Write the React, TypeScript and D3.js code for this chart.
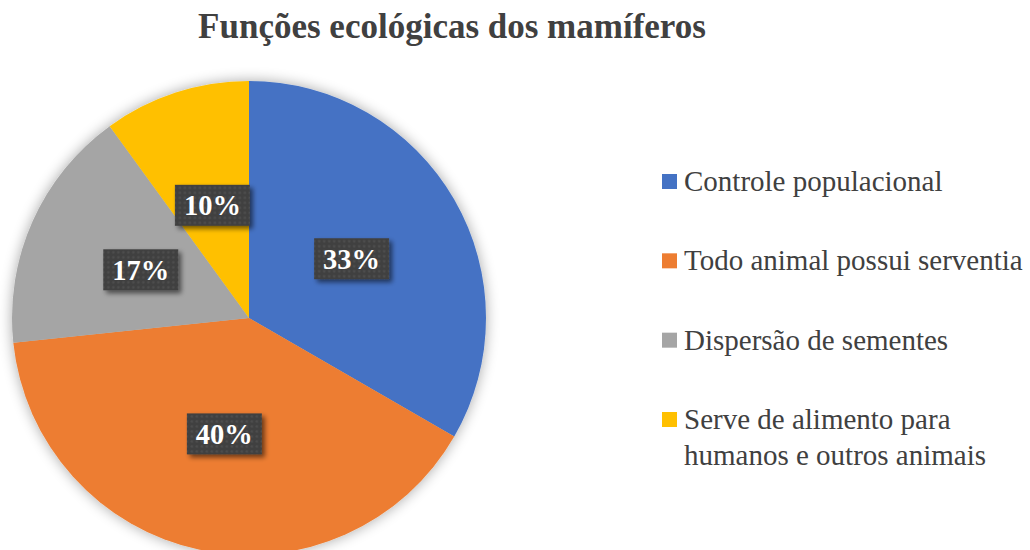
import React from "react";
import * as d3 from "d3";

const categories = [
  "Controle populacional",
  "Todo animal possui serventia",
  "Dispersão de sementes",
  "Serve de alimento para humanos e outros animais",
];
const legendLines = [
  ["Controle populacional"],
  ["Todo animal possui serventia"],
  ["Dispersão de sementes"],
  ["Serve de alimento para", "humanos e outros animais"],
];
const values = [10, 12, 5, 3];
const colors = ["#4472C4", "#ED7D31", "#A5A5A5", "#FFC000"];
const title = "Funções ecológicas dos mamíferos";

const W = 1030;
const H = 550;
const cx = 249;
const cy = 318;
const R = 237;

export default function App() {
  const total = d3.sum(values);
  const pie = d3.pie<number>().sort(null).value((d) => d)(values);
  const arc = d3.arc<d3.PieArcDatum<number>>().innerRadius(0).outerRadius(R);
  const legendY = d3.scaleLinear().domain([0, 3]).range([182, 420]);
  const fontStyle = { fontFamily: '"Liberation Serif", "DejaVu Serif", serif' };

  return (
    <svg
      width={W}
      height={H}
      style={{ position: "absolute", left: 0, top: 0, ...fontStyle }}
    >
      <defs>
        <filter id="pieShadow" x="-20%" y="-20%" width="140%" height="140%">
          <feGaussianBlur in="SourceAlpha" stdDeviation="7" />
          <feComponentTransfer>
            <feFuncA type="linear" slope="0.35" />
          </feComponentTransfer>
          <feMerge>
            <feMergeNode />
            <feMergeNode in="SourceGraphic" />
          </feMerge>
        </filter>
        <filter id="boxShadow" x="-30%" y="-30%" width="160%" height="160%">
          <feGaussianBlur in="SourceAlpha" stdDeviation="2.5" />
          <feOffset dx="3" dy="3" result="o" />
          <feComponentTransfer>
            <feFuncA type="linear" slope="0.55" />
          </feComponentTransfer>
          <feMerge>
            <feMergeNode />
            <feMergeNode in="SourceGraphic" />
          </feMerge>
        </filter>
        <pattern id="dots" width="5" height="5" patternUnits="userSpaceOnUse">
          <rect width="5" height="5" fill="#404040" />
          <rect x="1.5" y="1.5" width="2" height="2" fill="#525252" />
        </pattern>
      </defs>
      <rect width={W} height={H} fill="#fff" />
      <text
        x={452}
        y={38}
        textAnchor="middle"
        fontSize={35}
        fontWeight="bold"
        fill="#404040"
        style={fontStyle}
      >
        {title}
      </text>
      <g transform={`translate(${cx},${cy})`}>
        <g filter="url(#pieShadow)">
          {pie.map((p, i) => (
            <path key={i} d={arc(p) || ""} fill={colors[i]} />
          ))}
        </g>
        {pie.map((p, i) => {
          const [x, y] = arc.centroid(p);
          const label = `${Math.round((p.value / total) * 100)}%`;
          return (
            <g key={"l" + i} transform={`translate(${x},${y})`}>
              <rect
                x={-37.5}
                y={-20.5}
                width={75}
                height={41}
                fill="url(#dots)"
                filter="url(#boxShadow)"
              />
              <text
                x={0}
                y={10}
                textAnchor="middle"
                fontSize={28.5}
                fontWeight="bold"
                fill="#fff"
                style={fontStyle}
              >
                {label}
              </text>
            </g>
          );
        })}
      </g>
      {categories.map((c, i) => {
        const y = legendY(i);
        return (
          <g key={"lg" + i}>
            <rect x={662} y={y - 8} width={15} height={15} fill={colors[i]} />
            {legendLines[i].map((line, j) => (
              <text
                key={j}
                x={684}
                y={y + 9 + j * 36}
                fontSize={29}
                fill="#404040"
                style={fontStyle}
              >
                {line}
              </text>
            ))}
          </g>
        );
      })}
    </svg>
  );
}
